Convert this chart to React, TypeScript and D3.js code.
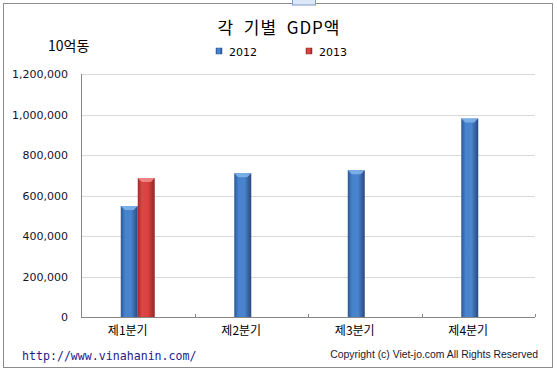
import { useEffect, useRef } from "react";
import * as d3 from "d3";

const quarters = ["제1분기", "제2분기", "제3분기", "제4분기"];
const seriesNames = ["2012", "2013"];
const values2012 = [548000, 710000, 725000, 980000];
const values2013 = [686000, null, null, null];
const yTicks = [0, 200000, 400000, 600000, 800000, 1000000, 1200000];

const W = 557;
const H = 372;

const App = () => {
    const svgRef = useRef<SVGSVGElement>(null);

    useEffect(() => {
        const svg = d3.select(svgRef.current);
        svg.selectAll("*").remove();

        const margin = { top: 74, left: 81, right: 22, bottom: 55 };
        const plotRight = W - margin.right;
        const plotBottom = H - margin.bottom;

        const defs = svg.append("defs");
        const grad = (id: string, stops: [number, string][]) => {
            const g = defs.append("linearGradient").attr("id", id)
                .attr("x1", "0").attr("x2", "1").attr("y1", "0").attr("y2", "0");
            stops.forEach(([o, c]) => g.append("stop").attr("offset", o).attr("stop-color", c));
        };
        grad("blueBar", [[0, "#2c5896"], [0.25, "#4782cc"], [0.6, "#4a84ce"], [1, "#28497c"]]);
        grad("redBar", [[0, "#a32b29"], [0.25, "#de4643"], [0.6, "#d84240"], [1, "#962624"]]);
        const fills = ["url(#blueBar)", "url(#redBar)"];
        const tops = ["#7fb2ea", "#f08a88"];

        // outer frame
        svg.append("rect").attr("x", 3.5).attr("y", 3.5)
            .attr("width", 549).attr("height", 364)
            .attr("fill", "#fff").attr("stroke", "#8c8c8c");
        svg.append("rect").attr("x", 292.5).attr("y", -2)
            .attr("width", 23).attr("height", 7)
            .attr("fill", "#dbe7f7").attr("stroke", "#7d9ccc");

        const x0 = d3.scaleBand().domain(quarters).range([margin.left, plotRight]);
        const x1 = d3.scaleBand().domain(seriesNames)
            .range([0, x0.bandwidth()]).paddingInner(0).paddingOuter(2.34);
        const y = d3.scaleLinear().domain([0, 1200000]).range([plotBottom, margin.top]);

        // grid
        svg.append("g").selectAll("line").data(yTicks.slice(1)).enter().append("line")
            .attr("x1", margin.left).attr("x2", plotRight)
            .attr("y1", d => Math.round(y(d)) + 0.5).attr("y2", d => Math.round(y(d)) + 0.5)
            .attr("stroke", "#d9d9d9");

        // y labels
        svg.append("g").selectAll("text").data(yTicks).enter().append("text")
            .attr("x", 68).attr("y", d => y(d) + 4)
            .attr("text-anchor", "end")
            .attr("font-family", "DejaVu Sans").attr("font-size", 11)
            .attr("fill", "#14142a")
            .text(d => d3.format(",")(d));

        // bars
        const data = [values2012, values2013];
        data.forEach((vals, si) => {
            const g = svg.append("g");
            quarters.forEach((q, qi) => {
                const v = vals[qi];
                if (v == null) return;
                const bx = (x0(q) ?? 0) + (x1(seriesNames[si]) ?? 0);
                const bw = x1.bandwidth();
                const by = y(v);
                g.append("rect").attr("x", bx).attr("y", by)
                    .attr("width", bw).attr("height", plotBottom - by)
                    .attr("fill", fills[si]);
                g.append("path")
                    .attr("d", `M${bx},${by}L${bx + bw},${by}L${bx + bw - 4},${by + 4}L${bx + 4},${by + 4}Z`)
                    .attr("fill", tops[si]).attr("opacity", 0.9);
            });
        });

        // axes
        svg.append("line").attr("x1", margin.left + 0.5).attr("x2", margin.left + 0.5)
            .attr("y1", margin.top).attr("y2", plotBottom).attr("stroke", "#868686");
        svg.append("line").attr("x1", margin.left).attr("x2", plotRight)
            .attr("y1", plotBottom + 0.5).attr("y2", plotBottom + 0.5).attr("stroke", "#868686");
        svg.append("g").selectAll("line").data(quarters.slice(1).concat(["end"])).enter().append("line")
            .attr("x1", (d, i) => Math.round(i < 3 ? (x0(d) ?? 0) : plotRight) + 0.5)
            .attr("x2", (d, i) => Math.round(i < 3 ? (x0(d) ?? 0) : plotRight) + 0.5)
            .attr("y1", plotBottom - 3).attr("y2", plotBottom)
            .attr("stroke", "#868686");

        // category labels
        svg.append("g").selectAll("text").data(quarters).enter().append("text")
            .attr("x", d => (x0(d) ?? 0) + x0.bandwidth() / 2 - 10)
            .attr("y", plotBottom + 18)
            .attr("text-anchor", "middle")
            .attr("font-family", "Noto Sans CJK KR").attr("font-size", 12)
            .attr("fill", "#000")
            .text(d => d);

        // title and unit
        svg.append("text").attr("x", 279).attr("y", 34)
            .attr("text-anchor", "middle")
            .attr("font-family", "Noto Sans CJK KR").attr("font-size", 17)
            .attr("letter-spacing", 1)
            .style("white-space", "pre")
            .attr("fill", "#000")
            .text("각  기별  GDP액");
        svg.append("text").attr("x", 48).attr("y", 51)
            .attr("font-family", "Noto Sans CJK KR").attr("font-size", 14)
            .attr("fill", "#000")
            .text("10억동");

        // legend
        const legendX = [216, 306];
        seriesNames.forEach((s, i) => {
            svg.append("rect").attr("x", legendX[i]).attr("y", 48)
                .attr("width", 6).attr("height", 6)
                .attr("fill", fills[i]).attr("stroke", i === 0 ? "#2c5896" : "#a32b29").attr("stroke-width", 0.5);
            svg.append("text").attr("x", legendX[i] + 13).attr("y", 56)
                .attr("font-family", "DejaVu Sans").attr("font-size", 11)
                .attr("fill", "#000")
                .text(s);
        });

        // footer
        svg.append("text").attr("x", 22).attr("y", 360)
            .attr("font-family", "DejaVu Sans Mono").attr("font-size", 11.6)
            .attr("fill", "#1c1c8c")
            .text("http://www.vinahanin.com/");
        svg.append("text").attr("x", 538).attr("y", 358)
            .attr("text-anchor", "end")
            .attr("font-family", "Liberation Sans").attr("font-size", 10.4)
            .attr("fill", "#1a1a2a")
            .text("Copyright (c) Viet-jo.com All Rights Reserved");
    }, []);

    return (
        <div style={{ position: "fixed", left: 0, top: 0 }}>
            <svg ref={svgRef} width={W} height={H}></svg>
        </div>
    );
};

export default App;
